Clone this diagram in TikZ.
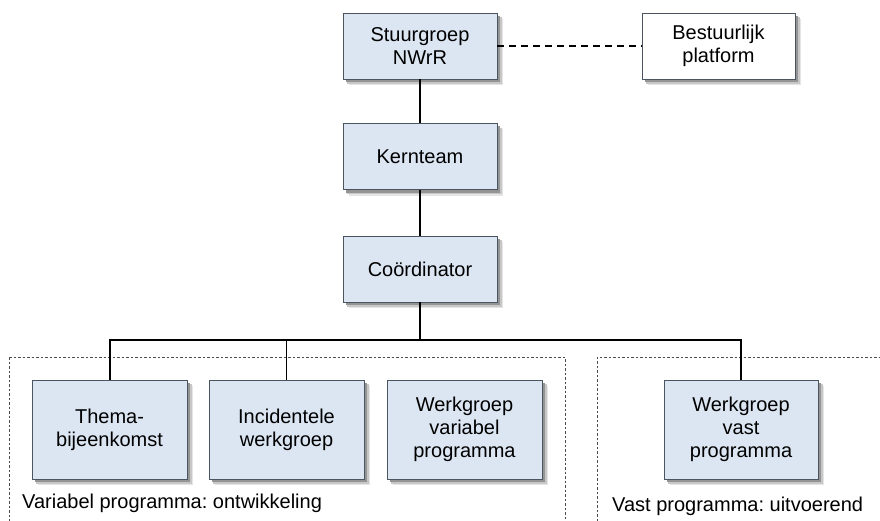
\documentclass[tikz,border=0pt]{standalone}
\usepackage{fontspec}
\setmainfont{Liberation Sans}
\frenchspacing
\usetikzlibrary{backgrounds}
\definecolor{boxfill}{HTML}{DCE6F2}
\definecolor{boxline}{HTML}{4A5560}
\tikzset{
  orgbox/.style={draw=boxline, line width=0.9pt, fill=boxfill, minimum width=154pt, minimum height=66pt,
    align=center, inner sep=0pt, font=\fontsize{20}{23}\selectfont},
  plainbox/.style={orgbox, fill=white},
  wide/.style={minimum height=99pt},
  link/.style={draw=black, line width=1.4pt},
  mainlink/.style={draw=black, line width=2pt},
  dlink/.style={draw=black, line width=1.2pt, dash pattern=on 7pt off 5pt},
  area/.style={draw=black!70, line width=0.6pt, dash pattern=on 2.5pt off 2pt},
  arealabel/.style={anchor=base west, inner sep=0pt, font=\fontsize{20}{23}\selectfont},
  shade1/.style={fill=black!10},
  shade2/.style={fill=black!22},
  shade3/.style={fill=black!42}
}
\begin{document}
\begin{tikzpicture}[x=1pt,y=-1pt]
\useasboundingbox (0,0) rectangle (880,521);
\begin{scope}
\clip (0,0) rectangle (880,521);
\draw[area] (9,357) -- (565,357) -- (565,530);
\draw[area] (9,357) -- (9,530);
\draw[area] (597,530) -- (597,357) -- (890,357);
\end{scope}
\node[orgbox] (stuur) at (420,46) {Stuurgroep\\NWrR};
\node[plainbox, minimum width=153pt] (best) at (718.5,46) {Bestuurlijk\\platform};
\node[orgbox] (kern) at (420,156.5) {Kernteam};
\node[orgbox] (coord) at (420,269) {Coördinator};
\node[orgbox, wide, minimum width=155pt] (thema) at (109.5,429.5) {Thema-\\bijeenkomst};
\node[orgbox, wide, minimum width=155pt] (incid) at (286.5,429.5) {Incidentele\\werkgroep};
\node[orgbox, wide, minimum width=155pt] (wvar) at (464.5,429.5) {Werkgroep\\variabel\\programma};
\node[orgbox, wide] (wvast) at (741,429.5) {Werkgroep\\vast\\programma};
\begin{scope}[on background layer]
\foreach \n in {stuur,best,kern,coord,thema,incid,wvar,wvast}{
  \fill[shade1] ([shift={(6pt,-6pt)}]\n.north west) rectangle ([shift={(6pt,-6pt)}]\n.south east);
  \fill[shade2] ([shift={(4.5pt,-4.5pt)}]\n.north west) rectangle ([shift={(4.5pt,-4.5pt)}]\n.south east);
  \fill[shade3] ([shift={(3pt,-3pt)}]\n.north west) rectangle ([shift={(3pt,-3pt)}]\n.south east);
}
\end{scope}
\coordinate (hub) at (420,340);
\draw[dlink] (stuur.east) -- (best.west);
\draw[link] (stuur.south) -- (kern.north);
\draw[link] (kern.south) -- (coord.north);
\draw[mainlink] (coord.south) -- (hub);
\draw[mainlink] (thema.north) |- (hub) -| (wvast.north);
\draw[link] (incid.north) -- (incid.north |- hub);
\node[arealabel] (lvar) at (22,508) {Variabel programma: ontwikkeling};
\node[arealabel] (lvast) at (612,511) {Vast programma: uitvoerend};
\end{tikzpicture}
\end{document}
